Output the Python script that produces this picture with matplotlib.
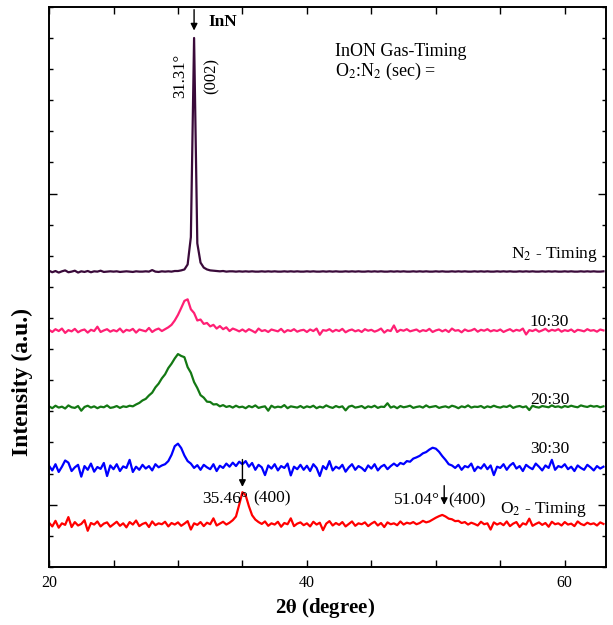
import numpy as np
import matplotlib
matplotlib.use("Agg")
import matplotlib.pyplot as plt
from matplotlib.ticker import FixedLocator, MultipleLocator, NullFormatter

plt.rcParams['font.family'] = ['Liberation Serif', 'DejaVu Serif']
plt.rcParams['mathtext.fontset'] = 'stix'

# 2theta grid of the scans (0.25 deg step, 20 .. 63 deg)
two_theta = np.arange(20.0, 63.001, 0.25)

# stacked intensities (a.u.)
n2_timing = [
    9.52, 9.47, 9.51, 9.46, 9.50, 9.53, 9.47, 9.49, 9.52, 9.46, 9.50, 9.48, 9.51, 9.47, 9.50, 9.49, 9.52, 9.48, 9.49, 9.50,
    9.49, 9.50, 9.48, 9.49, 9.50, 9.49, 9.48, 9.50, 9.49, 9.49, 9.50, 9.49, 9.54, 9.49, 9.48, 9.50, 9.49, 9.50, 9.49, 9.51,
    9.51, 9.53, 9.56, 9.72, 10.60, 17.00, 10.40, 9.78, 9.62, 9.56, 9.53, 9.52, 9.51, 9.50, 9.51, 9.49, 9.50, 9.50, 9.49, 9.50,
    9.49, 9.50, 9.49, 9.50, 9.49, 9.49, 9.50, 9.49, 9.50, 9.49, 9.50, 9.49, 9.49, 9.50, 9.49, 9.50, 9.49, 9.50, 9.49, 9.49,
    9.50, 9.49, 9.50, 9.49, 9.49, 9.50, 9.49, 9.50, 9.49, 9.50, 9.49, 9.49, 9.50, 9.49, 9.50, 9.49, 9.50, 9.49, 9.49, 9.50,
    9.49, 9.50, 9.49, 9.50, 9.49, 9.49, 9.50, 9.49, 9.50, 9.49, 9.50, 9.49, 9.49, 9.50, 9.49, 9.50, 9.49, 9.50, 9.49, 9.49,
    9.50, 9.49, 9.50, 9.49, 9.49, 9.50, 9.49, 9.50, 9.49, 9.50, 9.49, 9.49, 9.50, 9.49, 9.50, 9.49, 9.50, 9.49, 9.49, 9.50,
    9.49, 9.50, 9.49, 9.50, 9.49, 9.49, 9.50, 9.49, 9.50, 9.49, 9.50, 9.49, 9.49, 9.50, 9.49, 9.50, 9.49, 9.50, 9.49, 9.49,
    9.50, 9.49, 9.50, 9.49, 9.49, 9.50, 9.49, 9.50, 9.49, 9.50, 9.49, 9.49, 9.50,
]
ratio_10_30 = [
    7.62, 7.55, 7.64, 7.58, 7.66, 7.52, 7.61, 7.57, 7.65, 7.54, 7.60, 7.63, 7.53, 7.62, 7.58, 7.72, 7.55, 7.60, 7.64, 7.56,
    7.61, 7.57, 7.66, 7.54, 7.62, 7.59, 7.65, 7.53, 7.63, 7.60, 7.57, 7.68, 7.55, 7.62, 7.66, 7.58, 7.64, 7.70, 7.78, 7.92,
    8.10, 8.32, 8.55, 8.60, 8.28, 8.16, 7.92, 7.95, 7.81, 7.84, 7.73, 7.78, 7.66, 7.74, 7.64, 7.70, 7.58, 7.66, 7.62, 7.57,
    7.63, 7.56, 7.64, 7.59, 7.53, 7.66, 7.58, 7.61, 7.55, 7.63, 7.60, 7.57, 7.65, 7.54, 7.61, 7.58, 7.64, 7.56, 7.60, 7.62,
    7.55, 7.63, 7.58, 7.66, 7.46, 7.61, 7.59, 7.64, 7.56, 7.62, 7.58, 7.65, 7.54, 7.60, 7.63, 7.57, 7.61, 7.55, 7.64, 7.59,
    7.62, 7.56, 7.60, 7.66, 7.53, 7.61, 7.58, 7.76, 7.55, 7.62, 7.59, 7.64, 7.57, 7.60, 7.63, 7.56, 7.61, 7.58, 7.65, 7.55,
    7.60, 7.63, 7.57, 7.62, 7.55, 7.66, 7.59, 7.61, 7.54, 7.63, 7.58, 7.60, 7.65, 7.56, 7.62, 7.59, 7.64, 7.57, 7.61, 7.58,
    7.63, 7.55, 7.60, 7.64, 7.57, 7.62, 7.59, 7.66, 7.47, 7.61, 7.58, 7.63, 7.56, 7.60, 7.65, 7.57, 7.62, 7.59, 7.64, 7.56,
    7.61, 7.58, 7.63, 7.55, 7.62, 7.60, 7.57, 7.64, 7.59, 7.61, 7.56, 7.63, 7.60,
]
ratio_20_30 = [
    5.16, 5.10, 5.18, 5.12, 5.15, 5.09, 5.19, 5.13, 5.11, 5.17, 5.02, 5.14, 5.18, 5.12, 5.16, 5.10, 5.15, 5.13, 5.19, 5.11,
    5.13, 5.17, 5.11, 5.16, 5.14, 5.18, 5.16, 5.22, 5.27, 5.35, 5.40, 5.51, 5.60, 5.77, 5.89, 6.06, 6.19, 6.39, 6.53, 6.70,
    6.84, 6.78, 6.74, 6.42, 6.24, 5.94, 5.75, 5.52, 5.44, 5.31, 5.30, 5.22, 5.23, 5.16, 5.20, 5.14, 5.17, 5.12, 5.18, 5.13,
    5.15, 5.10, 5.17, 5.13, 5.19, 5.11, 5.14, 5.16, 5.02, 5.18, 5.12, 5.15, 5.13, 5.20, 5.10, 5.16, 5.14, 5.12, 5.17, 5.11,
    5.16, 5.13, 5.18, 5.10, 5.15, 5.12, 5.19, 5.14, 5.11, 5.17, 5.13, 5.16, 5.03, 5.15, 5.18, 5.12, 5.14, 5.17, 5.10, 5.16,
    5.13, 5.18, 5.11, 5.15, 5.14, 5.26, 5.12, 5.16, 5.10, 5.17, 5.13, 5.15, 5.18, 5.11, 5.14, 5.16, 5.12, 5.19, 5.13, 5.15,
    5.17, 5.11, 5.14, 5.16, 5.12, 5.18, 5.15, 5.10, 5.16, 5.13, 5.19, 5.12, 5.15, 5.14, 5.17, 5.11, 5.16, 5.13, 5.18, 5.14,
    5.12, 5.16, 5.14, 5.19, 5.11, 5.15, 5.17, 5.13, 5.16, 5.04, 5.18, 5.14, 5.12, 5.17, 5.15, 5.13, 5.19, 5.14, 5.16, 5.12,
    5.17, 5.14, 5.18, 5.15, 5.13, 5.19, 5.16, 5.14, 5.18, 5.15, 5.17, 5.13, 5.16,
]
ratio_30_30 = [
    3.25, 3.10, 3.30, 3.05, 3.22, 3.42, 3.35, 3.08, 3.20, 3.28, 2.90, 3.24, 3.12, 3.32, 3.06, 3.21, 3.15, 3.34, 2.92, 3.26,
    3.14, 3.30, 3.08, 3.23, 3.18, 3.44, 3.05, 3.22, 3.12, 3.28, 3.16, 3.24, 3.10, 3.30, 3.20, 3.26, 3.30, 3.40, 3.60, 3.88,
    3.96, 3.82, 3.58, 3.40, 3.32, 3.18, 3.27, 3.12, 3.28, 3.20, 3.14, 3.30, 3.08, 3.25, 3.18, 3.32, 3.22, 3.35, 3.24, 3.38,
    3.30, 3.40, 3.22, 3.34, 3.12, 3.28, 3.20, 2.95, 3.26, 3.16, 3.30, 3.10, 3.24, 3.18, 3.32, 2.94, 3.22, 3.14, 3.28, 3.12,
    3.25, 3.08, 3.30, 3.18, 2.92, 3.24, 3.14, 3.40, 3.10, 3.22, 3.16, 3.28, 3.06, 3.20, 3.30, 3.12, 3.24, 3.18, 3.08, 3.26,
    3.16, 3.30, 3.10, 3.22, 3.28, 3.14, 3.24, 3.32, 3.24, 3.34, 3.30, 3.40, 3.38, 3.48, 3.52, 3.57, 3.65, 3.69, 3.77, 3.83,
    3.80, 3.70, 3.56, 3.44, 3.30, 3.26, 3.18, 3.28, 3.12, 3.24, 3.20, 3.32, 3.08, 3.22, 3.16, 3.30, 3.14, 3.26, 2.95, 3.22,
    3.18, 3.30, 3.12, 3.26, 3.34, 3.16, 3.24, 3.08, 3.28, 3.20, 3.14, 3.32, 3.22, 3.10, 3.26, 3.18, 3.44, 3.12, 3.24, 3.20,
    3.30, 3.14, 3.22, 3.08, 3.26, 3.18, 3.12, 3.28, 3.20, 3.10, 3.24, 3.16, 3.22,
]
o2_timing = [
    1.42, 1.30, 1.48, 1.26, 1.40, 1.35, 1.60, 1.28, 1.44, 1.33, 1.38, 1.50, 1.16, 1.41, 1.36, 1.46, 1.30, 1.39, 1.43, 1.29,
    1.37, 1.45, 1.32, 1.40, 1.27, 1.44, 1.36, 1.49, 1.31, 1.38, 1.42, 1.28, 1.46, 1.34, 1.40, 1.37, 1.45, 1.30, 1.41, 1.36,
    1.43, 1.32, 1.39, 1.47, 1.20, 1.40, 1.35, 1.44, 1.31, 1.42, 1.37, 1.56, 1.33, 1.39, 1.45, 1.36, 1.42, 1.50, 1.62, 2.00,
    2.40, 2.30, 1.95, 1.66, 1.52, 1.44, 1.38, 1.46, 1.32, 1.40, 1.36, 1.45, 1.29, 1.41, 1.37, 1.56, 1.31, 1.39, 1.43, 1.34,
    1.40, 1.30, 1.45, 1.36, 1.42, 1.18, 1.39, 1.47, 1.33, 1.41, 1.35, 1.44, 1.30, 1.38, 1.46, 1.32, 1.40, 1.37, 1.43, 1.31,
    1.39, 1.45, 1.33, 1.41, 1.28, 1.43, 1.37, 1.40, 1.34, 1.46, 1.36, 1.42, 1.39, 1.44, 1.37, 1.41, 1.48, 1.43, 1.46, 1.52,
    1.58, 1.63, 1.67, 1.62, 1.55, 1.53, 1.47, 1.48, 1.41, 1.44, 1.36, 1.42, 1.38, 1.33, 1.45, 1.37, 1.40, 1.20, 1.43, 1.36,
    1.41, 1.34, 1.46, 1.31, 1.39, 1.44, 1.28, 1.40, 1.36, 1.55, 1.32, 1.38, 1.43, 1.35, 1.41, 1.29, 1.45, 1.37, 1.40, 1.33,
    1.44, 1.36, 1.39, 1.31, 1.46, 1.38, 1.34, 1.42, 1.37, 1.40, 1.33, 1.43, 1.38,
]

series = [n2_timing, ratio_10_30, ratio_20_30, ratio_30_30, o2_timing]
colors = ['#3a0a3a', '#ff1f74', '#137813', '#0000ff', '#ff0000']

fig = plt.figure(figsize=(6.13, 6.25), dpi=100)
ax = fig.add_axes([0.080, 0.093, 0.9086, 0.896])

for y, c in zip(series, colors):
    ax.plot(two_theta, y, color=c, lw=1.6)

ax.set_xlim(20, 63.2)
ax.set_ylim(0, 18)

ax.xaxis.set_major_locator(FixedLocator([20, 40, 60]))
ax.xaxis.set_minor_locator(MultipleLocator(5))
ax.yaxis.set_major_locator(FixedLocator([2, 12]))
ax.yaxis.set_minor_locator(MultipleLocator(1))
ax.yaxis.set_major_formatter(NullFormatter())
ax.tick_params(which='both', direction='in', top=True, right=True, width=1.0)
ax.tick_params(axis='x', which='both', length=5, labelsize=11.5, pad=6)
ax.tick_params(axis='y', which='major', length=6)
ax.tick_params(axis='y', which='minor', length=3)
for s in ax.spines.values():
    s.set_linewidth(1.4)

ax.set_xlabel(r'2$\mathbf{\theta}$ (degree)', fontsize=15, fontweight='bold')
ax.xaxis.set_label_coords(0.495, -0.052)
ax.set_ylabel('Intensity (a.u.)', fontsize=17, fontweight='bold')
ax.yaxis.set_label_coords(-0.029, 0.33)

# peak markers
x_inn = two_theta[int(np.argmax(n2_timing))]
ax.annotate('', xy=(x_inn, 17.15), xytext=(x_inn, 18.0), annotation_clip=False,
            arrowprops=dict(arrowstyle='-|>', color='k', lw=1.0, mutation_scale=10))
ax.text(32.4, 17.52, 'InN', fontsize=12.5, fontweight='bold', ha='left', va='center')
ax.text(30.16, 15.78, '31.31°', fontsize=12, rotation=90, ha='center', va='center')
ax.text(32.64, 15.78, '(002)', fontsize=12, rotation=90, ha='center', va='center')

ax.text(42.17, 16.55, 'InON Gas-Timing', fontsize=13, ha='left', va='center')
ax.text(42.17, 15.91, r'O$_2$:N$_2$ (sec) =', fontsize=13, ha='left', va='center')

ax.text(62.56, 10.03, r'N$_2$ - Timing', fontsize=12.5, ha='right', va='center')
ax.text(57.29, 7.88, '10:30', fontsize=12.5, ha='left', va='center')
ax.text(57.29, 5.37, '20:30', fontsize=12.5, ha='left', va='center')
ax.text(57.29, 3.79, '30:30', fontsize=12.5, ha='left', va='center')

x_400a = two_theta[int(np.argmax(o2_timing[:100]))]
ax.annotate('', xy=(x_400a, 2.48), xytext=(x_400a, 3.54),
            arrowprops=dict(arrowstyle='-|>', color='k', lw=1.0, mutation_scale=10))
ax.text(35.4, 2.19, '35.46°', fontsize=12.5, ha='right', va='center')
ax.text(35.81, 2.19, '(400)', fontsize=12.5, ha='left', va='center')

x_400b = two_theta[100 + int(np.argmax(o2_timing[100:]))] + 0.15
ax.annotate('', xy=(x_400b, 1.90), xytext=(x_400b, 2.70),
            arrowprops=dict(arrowstyle='-|>', color='k', lw=1.0, mutation_scale=10))
ax.text(50.31, 2.15, '51.04°', fontsize=12.5, ha='right', va='center')
ax.text(50.95, 2.15, '(400)', fontsize=12.5, ha='left', va='center')
ax.text(54.96, 1.83, r'O$_2$ - Timing', fontsize=12.5, ha='left', va='center')

fig.savefig('out.png', dpi=100)
